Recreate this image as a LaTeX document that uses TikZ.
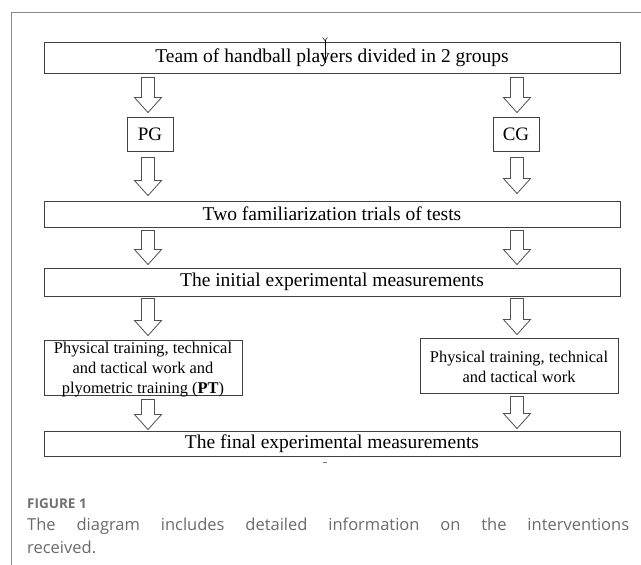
\documentclass[tikz,border=0pt]{standalone}
\usepackage{fontspec}
\setmainfont{Liberation Serif}
\newfontfamily\capfont{Open Sans}
\usetikzlibrary{calc}
\definecolor{framegray}{HTML}{8A8A8A}
\definecolor{capgray}{HTML}{6A6A6A}
\definecolor{figgray}{HTML}{707070}
\definecolor{boxline}{HTML}{404040}
\definecolor{arrline}{HTML}{505050}
\tikzset{
  box/.style={draw=boxline, line width=0.9pt, inner sep=0pt, align=center,
    font=\fontsize{19.5}{23}\selectfont},
  widebox/.style={box, minimum width=576pt},
  smallbox/.style={box, minimum width=198pt, minimum height=55pt},
  smalltext/.style={inner sep=0pt, align=center, font=\fontsize{16.4}{20}\selectfont},
  grpbox/.style={box, minimum width=46pt, minimum height=34pt,
    font=\fontsize{19}{22}\selectfont},
  blockarrow/.style={draw=arrline, line width=0.8pt, fill=white, line join=miter},
  captext/.style={anchor=west, inner sep=0pt, text=capgray,
    font=\capfont\fontsize{16.5}{20}\selectfont},
}
% #1 column coordinate, #2 from node, #3 to node, #4 start gap, #5 end gap
\newcommand\barrow[5]{%
  \draw[blockarrow] let \p1=(#1 |- #2.south), \p2=(#1 |- #3.north) in
    (\x1-6.5pt,\y1-#4pt) -- (\x1+6.5pt,\y1-#4pt) -- (\x1+6.5pt,\y2+#5pt+15pt)
    -- (\x1+13.5pt,\y2+#5pt+15pt) -- (\x1,\y2+#5pt) -- (\x1-13.5pt,\y2+#5pt+15pt)
    -- (\x1-6.5pt,\y2+#5pt+15pt) -- cycle;}
\begin{document}
\begin{tikzpicture}[x=1pt,y=-1pt]
\useasboundingbox (0,0) rectangle (641,565);
% outer frame
\draw[framegray, line width=0.9pt] (641,12.5) -- (11,12.5) -- (11,565);

\coordinate (L) at (148,0);
\coordinate (R) at (517,0);

\node[widebox, minimum height=31pt] (team) at (332,57.5) {Team of handball players divided in 2 groups};
\node[grpbox] (pg) at (150,134) {PG};
\node[grpbox] (cg) at (516,134) {CG};
\node[widebox, minimum height=26pt] (fam) at (332,214) {Two familiarization trials of tests};
\node[widebox, minimum height=28pt] (init) at (332,282) {The initial experimental measurements};
\node[smallbox, label={[smalltext, yshift=-2pt]center:{Physical training, technical\\and tactical work and\\plyometric training (\textbf{PT})}}] (ptbox) at (143,367.5) {};
\node[smallbox, label={[smalltext, yshift=-1.5pt]center:{Physical training, technical\\and tactical work}}] (cgbox) at (519,365.5) {};
\node[widebox, minimum height=25pt] (final) at (332,443.5) {The final experimental measurements};

% block arrows
\barrow{L}{team}{pg}{4}{4}
\barrow{R}{team}{cg}{4}{4}
\barrow{L}{pg}{fam}{6}{5}
\barrow{R}{cg}{fam}{6}{7}
\barrow{L}{fam}{init}{3}{3}
\barrow{R}{fam}{init}{3}{3}
\barrow{L}{init}{ptbox}{2}{4}
\barrow{R}{init}{cgbox}{2}{3}
\barrow{L}{ptbox}{final}{4}{1}
\barrow{R}{cgbox}{final}{3}{2}

% small marks
\draw[black, line width=0.6pt] (325,40) -- (325,63);
\draw[black, line width=0.5pt] (322.5,37.5) -- (325,40.5) -- (327.5,37.5);
\draw[gray, line width=0.8pt] (323,462) -- (327,462);

% caption
\node[anchor=west, inner sep=0pt, text=figgray, font=\capfont\bfseries\fontsize{13.5}{16}\selectfont] (figlbl) at (27,504) {FIGURE 1};
\node[captext] (cap1) at (27,526) {\makebox[602pt][s]{The diagram includes detailed information on the interventions}};
\node[captext] (cap2) at (27,547) {received.};
\end{tikzpicture}
\end{document}
